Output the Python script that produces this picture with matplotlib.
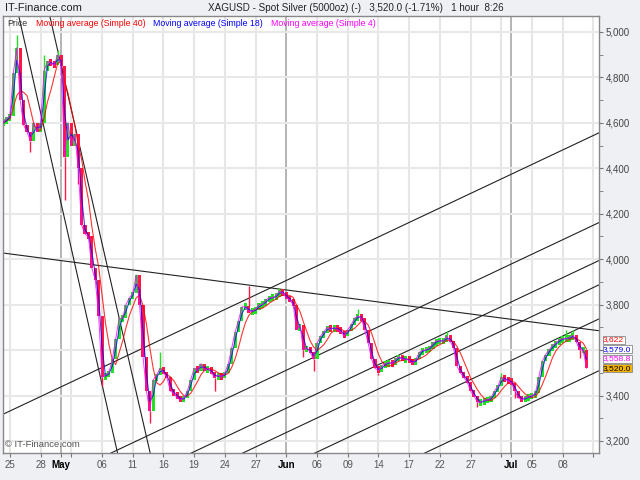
import pandas as pd
import matplotlib.pyplot as plt
from matplotlib.transforms import blended_transform_factory

plt.rcParams['font.family'] = ['Liberation Sans', 'DejaVu Sans']

# 8 hour bars, x axis counted in trading days from 25 Apr
first_day = -2 / 3
bars_per_day = 3
close = [
    4600, 4620, 4630, 4820, 4930, 4700, 4590, 4560, 4520, 4600,
    4560, 4600, 4830, 4870, 4860, 4855, 4900, 4850, 4450, 4600,
    4500, 4550, 4400, 4150, 4110, 4100, 3960, 3910, 3750, 3480,
    3490, 3500, 3560, 3650, 3740, 3740, 3800, 3830, 3850, 3930,
    3800, 3570, 3420, 3330, 3470, 3490, 3520, 3500, 3480, 3420,
    3410, 3390, 3380, 3390, 3420, 3470, 3520, 3510, 3540, 3510,
    3520, 3500, 3480, 3490, 3480, 3500, 3540, 3610, 3680, 3730,
    3790, 3790, 3770, 3770, 3780, 3800, 3800, 3820, 3830, 3830,
    3840, 3860, 3850, 3830, 3820, 3800, 3690, 3710, 3600, 3610,
    3590, 3560, 3630, 3660, 3680, 3700, 3690, 3700, 3690, 3680,
    3660, 3690, 3710, 3740, 3750, 3740, 3690, 3630, 3560, 3520,
    3510, 3530, 3540, 3545, 3540, 3560, 3570, 3560, 3560, 3555,
    3540, 3560, 3590, 3600, 3600, 3610, 3630, 3640, 3640, 3640,
    3660, 3640, 3610, 3530, 3500, 3480, 3460, 3420, 3400, 3370,
    3370, 3380, 3380, 3390, 3420, 3440, 3480, 3470, 3465, 3455,
    3420, 3390, 3380, 3390, 3395, 3400, 3410, 3480, 3550, 3580,
    3600, 3620, 3630, 3645, 3650, 3650, 3655, 3665, 3635, 3600,
    3600, 3520,
]
# bars with a long wick: index -> extreme price
spike_high = {4: 4985, 12: 4900, 16: 4920, 46: 3590, 72: 3880, 81: 3875,
              104: 3780, 130: 3685, 146: 3500, 165: 3690, 167: 3690}
spike_low = {8: 4470, 18: 4260, 22: 4330, 29: 3440, 43: 3280, 62: 3420,
             88: 3570, 91: 3510, 110: 3490, 139: 3350, 150: 3390, 169: 3565}

tick_days = [0, 3, 5, 6, 9, 12, 15, 18, 21, 24, 27, 30, 33, 36, 39, 42, 45, 48, 49, 51, 54, 57]
tick_labels = ['25', '28', 'May', '', '06', '11', '16', '19', '24', '27', 'Jun', '06', '09',
               '14', '17', '22', '27', '', 'Jul', '05', '08', '']
month_labels = ['May', 'Jun', 'Jul']
price_ticks = list(range(3200, 5001, 200))
hidden_price_label = 3600  # covered by the last value boxes

# trend lines drawn on the chart (day, price)
steep_lines = [((0.86, 5070), (10.51, 3147)), ((3.89, 5070), (13.70, 3147))]
falling_line = ((-0.68, 4027), (57.55, 3685))
channel_end_day = 57.55
channel_end_price = [4556, 4161, 3994, 3887, 3737, 3509]
channel_slope = 21.27  # price per trading day

# last value boxes: text, text colour, box colour
last_labels = [('3,622', 'red', 'white'), ('3,579.0', 'blue', 'white'),
               ('3,558.8', 'magenta', 'white'), ('3,520.0', 'black', '#f5b400')]

s = pd.Series(close, dtype=float)
days = first_day + s.index / bars_per_day
ma40 = s.rolling(5, min_periods=1).mean()
ma18 = s.rolling(2, min_periods=1).mean()
ma4 = s.rolling(1, min_periods=1).mean()

fig = plt.figure(figsize=(6.4, 4.8), dpi=100, facecolor='#eef0f3')
ax = fig.add_axes([3 / 640, 27 / 480, 596 / 640, 437 / 480])
ax.set_facecolor('white')
ax.set_xlim(-0.68, 57.55)
ax.set_ylim(3147, 5070)

# grid
for d, lab in zip(tick_days, tick_labels):
    if lab in month_labels:
        ax.axvline(d, color='#a8a8a8', lw=1.2, zorder=0)
    else:
        ax.axvline(d, color='#e6e6e6', lw=1.5, zorder=0)
for p in price_ticks:
    ax.axhline(p, color='#e8e8e8', lw=1.5, zorder=0)

# trend lines
for (x0, y0), (x1, y1) in steep_lines + [falling_line]:
    ax.plot([x0, x1], [y0, y1], color='#222222', lw=0.8, zorder=1)
for pe in channel_end_price:
    xs = [-1, 58]
    ys = [pe - channel_slope * (channel_end_day - x) for x in xs]
    ax.plot(xs, ys, color='#222222', lw=0.8, zorder=1)

# price bars
opens = s.shift(1).fillna(s.iloc[0])
for i in range(len(s)):
    o, c = opens[i], s[i]
    col = '#22e022' if c >= o else '#ff1848'
    lo, hi = min(o, c), max(o, c)
    if hi - lo < 30:
        mid = (hi + lo) / 2
        lo, hi = mid - 15, mid + 15
    ax.bar(days[i], hi - lo, bottom=lo, width=0.3, color=col, lw=0, zorder=2)
    if i in spike_high:
        ax.vlines(days[i], hi, spike_high[i], color=col, lw=1, zorder=2)
    if i in spike_low:
        ax.vlines(days[i], spike_low[i], lo, color=col, lw=1, zorder=2)

ax.plot(days, ma40, color='red', lw=0.8, alpha=0.8, zorder=3)
ax.plot(days, ma18, color='blue', lw=0.8, alpha=0.75, zorder=3)
ax.plot(days, ma4, color='magenta', lw=0.7, alpha=0.8, zorder=3)

# axes
ax.yaxis.tick_right()
ax.set_yticks(price_ticks)
ax.set_yticklabels(['' if p == hidden_price_label else f'{p:,}' for p in price_ticks])
ax.set_yticks(range(3200, 5001, 100), minor=True)
ax.tick_params(axis='y', which='both', direction='out', length=3, color='#777',
               labelsize=7, labelcolor='#444', pad=2)
ax.set_xticks(tick_days)
ax.set_xticklabels(tick_labels)
ax.tick_params(axis='x', direction='out', length=3, color='#777', labelsize=7,
               labelcolor='#555', pad=2)
for t in ax.get_xticklabels():
    if t.get_text() in month_labels:
        t.set_fontweight('bold')
        t.set_color('black')
for sp in ax.spines.values():
    sp.set_color('#888888')
    sp.set_linewidth(1)

# legend row inside the plot
leg_y = 1 - 8 / 437
ax.text(4 / 596, leg_y, 'Price', transform=ax.transAxes, fontsize=6.3, color='#333', va='center')
ax.text(33 / 596, leg_y, 'Moving average (Simple 40)', transform=ax.transAxes, fontsize=6.3,
        color='red', va='center')
ax.text(150 / 596, leg_y, 'Moving average (Simple 18)', transform=ax.transAxes, fontsize=6.3,
        color='blue', va='center')
ax.text(268 / 596, leg_y, 'Moving average (Simple 4)', transform=ax.transAxes, fontsize=6.3,
        color='magenta', va='center')
ax.text(2 / 596, 4 / 437, '\u00a9 IT-Finance.com', transform=ax.transAxes, fontsize=6.8,
        color='#555', va='bottom')

# last value boxes on the right, stacked upward from the last close
px_to_price = (5070 - 3147) / 437
for j, (txt, tc, fc) in enumerate(reversed(last_labels)):
    val = s.iloc[-1] + j * 9.5 * px_to_price
    ax.text(1.007, val, txt, transform=blended_transform_factory(ax.transAxes, ax.transData),
            fontsize=6.1, color=tc, va='center', ha='left', clip_on=False, zorder=10 - j,
            bbox=dict(boxstyle='square,pad=0.06', fc=fc, ec='#888', lw=0.6))

fig.text(5 / 640, 1 - 8 / 480, 'IT-Finance.com', fontsize=8, va='center', color='#222')
fig.text(208 / 640, 1 - 8 / 480, 'XAGUSD - Spot Silver (5000oz) (-)   3,520.0 (-1.71%)   1 hour  8:26',
         fontsize=7.1, va='center', color='#222')

fig.savefig('out.png', dpi=100, facecolor=fig.get_facecolor())
